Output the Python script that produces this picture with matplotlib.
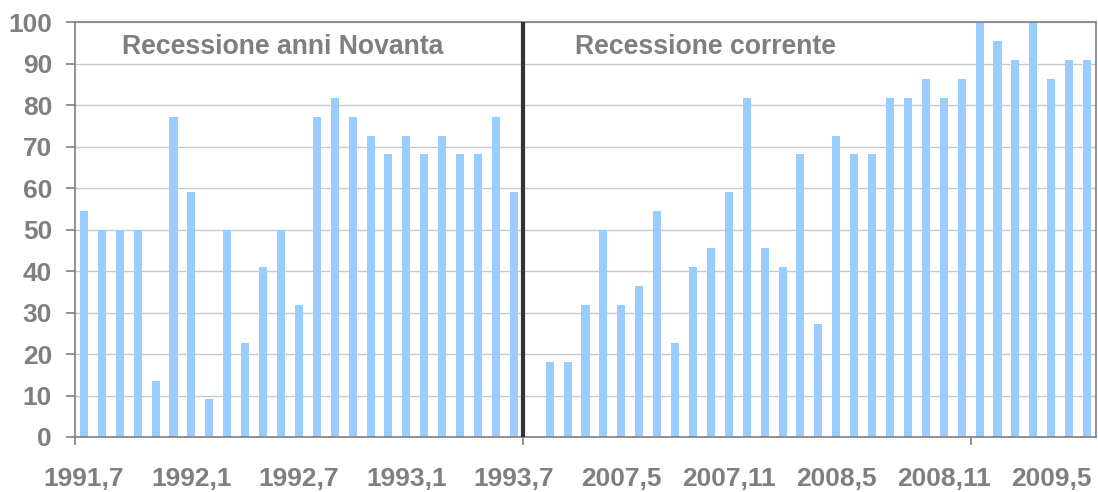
"""Indice di diffusione: recessione anni Novanta vs recessione corrente."""

import matplotlib

matplotlib.use("Agg")
import matplotlib.pyplot as plt
import numpy as np

plt.rcParams["font.family"] = ["Liberation Sans", "DejaVu Sans"]

# Dati (quota %)
nineties_months = ["1991,7", "1991,8", "1991,9", "1991,10", "1991,11", "1991,12",
                   "1992,1", "1992,2", "1992,3", "1992,4", "1992,5", "1992,6",
                   "1992,7", "1992,8", "1992,9", "1992,10", "1992,11", "1992,12",
                   "1993,1", "1993,2", "1993,3", "1993,4", "1993,5", "1993,6",
                   "1993,7"]
nineties_values = [54.5, 50, 50, 50, 13.6, 77.3, 59.1, 9.1, 50, 22.7, 40.9, 50,
                   31.8, 77.3, 81.8, 77.3, 72.7, 68.2, 72.7, 68.2, 72.7, 68.2,
                   68.2, 77.3, 59.1]

current_months = ["2007,1", "2007,2", "2007,3", "2007,4", "2007,5", "2007,6",
                  "2007,7", "2007,8", "2007,9", "2007,10", "2007,11", "2007,12",
                  "2008,1", "2008,2", "2008,3", "2008,4", "2008,5", "2008,6",
                  "2008,7", "2008,8", "2008,9", "2008,10", "2008,11", "2008,12",
                  "2009,1", "2009,2", "2009,3", "2009,4", "2009,5", "2009,6",
                  "2009,7"]
current_values = [18.2, 18.2, 31.8, 50, 31.8, 36.4, 54.5, 22.7, 40.9, 45.5, 59.1,
                  81.8, 45.5, 40.9, 68.2, 27.3, 72.7, 68.2, 68.2, 81.8, 81.8,
                  86.4, 81.8, 86.4, 100, 95.5, 90.9, 100, 86.4, 90.9, 90.9]

panel_titles = ["Recessione anni Novanta", "Recessione corrente"]

# categorie: due periodi separati da una colonna vuota
categories = nineties_months + [""] + current_months
values = nineties_values + [np.nan] + current_values
n = len(categories)
x = np.arange(n)

GREY = "#7F7F7F"
BAR = "#99CCFF"

fig = plt.figure(figsize=(10.98, 4.92), dpi=100)
ax = fig.add_axes([75 / 1098, 55 / 492, 1021 / 1098, 414.5 / 492])

ax.bar(x, values, width=0.45, color=BAR, zorder=2)

# linea di separazione tra i due periodi
split = len(nineties_months) - 0.5
ax.plot([split, split], [0, 100], color="#333333", linewidth=3.0, zorder=3,
        solid_capstyle="butt")

ax.set_xlim(-0.5, n - 0.5)
ax.set_ylim(0, 100)

# griglia e cornice
ax.set_yticks(np.arange(0, 101, 10))
ax.yaxis.grid(True, color="#C8C8C8", linewidth=1.0, zorder=0)
ax.set_axisbelow(True)
for side in ["left", "bottom", "top", "right"]:
    ax.spines[side].set_color(GREY)
    ax.spines[side].set_linewidth(1.2)

# etichette ogni 6 mesi, tacche ogni 25 categorie
label_idx = list(range(0, n, 6))
ax.set_xticks(label_idx)
ax.set_xticklabels([categories[i] for i in label_idx])
ax.set_xticks(np.arange(-0.5, n, 25), minor=True)
ax.tick_params(axis="x", which="major", length=0, pad=21.5, labelsize=19,
               labelcolor=GREY)
ax.tick_params(axis="x", which="minor", length=6, width=1.2, color=GREY,
               direction="out")
ax.tick_params(axis="y", length=6.5, width=1.2, color=GREY, pad=10,
               labelsize=19, labelcolor=GREY)
for lbl in ax.get_xticklabels() + ax.get_yticklabels():
    lbl.set_fontweight("bold")

# titoli dei due periodi
ax.text(0.046, 92.4, panel_titles[0], transform=ax.get_yaxis_transform(),
        fontsize=19.2, fontweight="bold", color=GREY, va="baseline", zorder=4)
ax.text(0.4897, 92.4, panel_titles[1], transform=ax.get_yaxis_transform(),
        fontsize=19.2, fontweight="bold", color=GREY, va="baseline", zorder=4)

fig.savefig("out.png", dpi=100)
